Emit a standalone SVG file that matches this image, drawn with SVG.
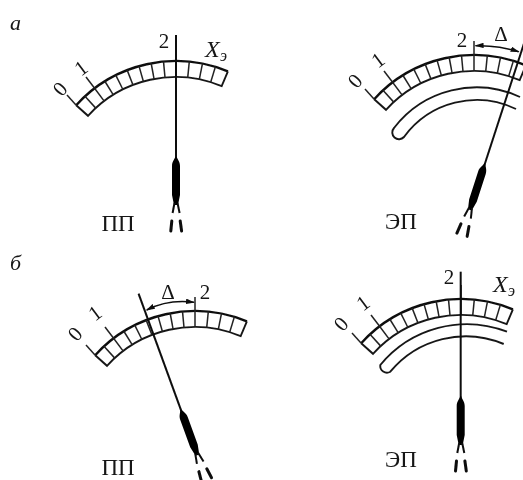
<svg xmlns="http://www.w3.org/2000/svg" width="523" height="480" viewBox="0 0 523 480">
<style>
text{font-family:"Liberation Serif","DejaVu Serif",serif;fill:#141414}
.d{font-size:21px;text-anchor:middle}
.n{font-size:23px;text-anchor:middle}
.i{font-style:italic;font-size:22px}
.x{font-size:24px;font-style:italic}
.s{font-size:16px;font-style:italic}
.a{font-size:21px;text-anchor:middle}
.o{fill:none;stroke:#111;stroke-width:2.4}
.m{fill:none;stroke:#181818;stroke-width:1.9}
.t{fill:none;stroke:#222;stroke-width:1.5}
.r{fill:none;stroke:#111;stroke-width:1.5;marker-start:url(#h);marker-end:url(#h)}
.p{fill:none;stroke:#0c0c0c;stroke-width:2}
</style>
<defs>
<filter id="soft" x="0" y="0" width="1" height="1"><feGaussianBlur stdDeviation="0.35"/></filter>
<marker id="h" viewBox="0 0 10 6" refX="9" refY="3" markerWidth="9" markerHeight="5.500" markerUnits="userSpaceOnUse" orient="auto-start-reverse"><path d="M0 0L10 3L0 6z" fill="#111"/></marker>
<line id="k" x1="0" y1="-135" x2="0" y2="-119" class="t"/>
<g id="scale">
<path class="o" d="M-99.800-90.800A135 135 0 0 1 51.900-124.600"/>
<path class="m" d="M-99.800-90.800L-88-80.200A119 119 0 0 1 45.700-109.900L51.900-124.600"/>
<use href="#k" transform="rotate(-42.400)"/><use href="#k" transform="rotate(-37.100)"/><use href="#k" transform="rotate(-31.800)"/><use href="#k" transform="rotate(-26.500)"/><use href="#k" transform="rotate(-21.200)"/><use href="#k" transform="rotate(-15.900)"/><use href="#k" transform="rotate(-10.600)"/><use href="#k" transform="rotate(-5.300)"/><use href="#k"/><use href="#k" transform="rotate(5.650)"/><use href="#k" transform="rotate(11.300)"/><use href="#k" transform="rotate(16.950)"/>
<line class="t" x1="-99.800" y1="-90.800" x2="-109" y2="-101"/>
<line class="t" x1="-81.400" y1="-107.700" x2="-90" y2="-119"/>
<line class="t" x1="0" y1="-135" x2="0" y2="-149"/>
</g>
<g id="needle">
<path d="M0-48C1-44 4-42 4-37L4-8L2 2L-2 2L-4-8L-4-37C-4-42-1-44 0-48z" fill="#050505"/>
<path class="p" d="M-1.500 0L-3.400 10M1.500 0L3.600 10"/>
<path d="M-4.200 18L-5.200 28M4.200 18L5.600 28" fill="none" stroke="#0c0c0c" stroke-width="3" stroke-linecap="round"/>
</g>
</defs>
<rect width="523" height="480" fill="#fff"/>
<g filter="url(#soft)">
<text class="i" x="10" y="30">а</text>
<text class="i" x="10" y="270">б</text>
<g id="panel-a-pp">
<use href="#scale" transform="translate(176 196)"/>
<line class="p" x1="176" y1="35" x2="176" y2="160"/>
<use href="#needle" transform="translate(176 203)"/>
<text class="d" transform="translate(60 89) rotate(-48)" y="7">0</text>
<text class="d" transform="translate(81 68) rotate(-37)" y="7">1</text>
<text class="d" x="164" y="48">2</text>
<text class="x" x="205" y="57">X</text><text class="s" x="220" y="61">э</text>
<text class="n" x="118" y="231">ПП</text>
</g>
<g id="panel-a-ep">
<use href="#scale" transform="translate(474 190)"/>
<path class="m" d="M520 97A104 104 0 0 0 394 128A6.700 6.700 0 0 0 404 137A90 90 0 0 1 516 109"/>
<g transform="translate(470.500 208) rotate(18)">
<line class="p" x1="0" y1="-178" x2="0" y2="-40"/>
<use href="#needle"/>
</g>
<path class="r" d="M475.500 45.700Q498 45 518.700 51.700"/>
<text class="a" x="501" y="41">Δ</text>
<text class="d" transform="translate(355 81) rotate(-48)" y="7">0</text>
<text class="d" transform="translate(378 60) rotate(-37)" y="7">1</text>
<text class="d" x="462" y="47">2</text>
<text class="n" x="401" y="229">ЭП</text>
</g>
<g id="panel-b-pp">
<use href="#scale" transform="translate(195 446)"/>
<g transform="translate(196.700 453.300) rotate(-20)">
<line class="p" x1="0" y1="-170" x2="0" y2="-40"/>
<use href="#needle"/>
</g>
<path class="r" d="M146.700 310Q168 299 194 302.300"/>
<text class="a" x="168" y="299">Δ</text>
<text class="d" transform="translate(75 334) rotate(-48)" y="7">0</text>
<text class="d" transform="translate(95 313) rotate(-37)" y="7">1</text>
<text class="d" x="205" y="299">2</text>
<text class="n" x="118" y="474.500">ПП</text>
</g>
<g id="panel-b-ep">
<use href="#scale" transform="translate(461 434)"/>
<path class="m" d="M507 331.700A112 112 0 0 0 380.300 365A6.700 6.700 0 0 0 390.300 371.700A98 98 0 0 1 503.700 344"/>
<line class="p" x1="460.700" y1="271.700" x2="460.700" y2="400"/>
<use href="#needle" transform="translate(460.700 443)"/>
<text class="d" transform="translate(341 324) rotate(-48)" y="7">0</text>
<text class="d" transform="translate(363 303) rotate(-37)" y="7">1</text>
<text class="d" x="449" y="284">2</text>
<text class="x" x="493" y="292">X</text><text class="s" x="508" y="296">э</text>
<text class="n" x="401" y="467">ЭП</text>
</g>
</g>
</svg>
